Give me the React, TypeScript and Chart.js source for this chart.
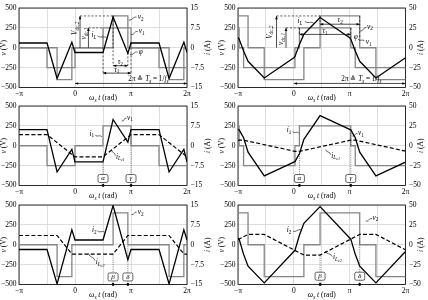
import React, { useEffect, useRef } from 'react';
import { Chart, registerables } from 'chart.js';

Chart.register(...registerables);

const FONT = '"Liberation Serif", "DejaVu Serif", serif';
const TICK_SIZE = 7.5;

// ---- shared axis definitions (x in multiples of π)
const X_MIN = -1;
const X_MAX = 2;
const X_STEP = 0.5;
const xTickText: Record<string, string> = { '-1': '−π', '0': '0', '1': 'π', '2': '2π' };
const V_MIN = -500;
const V_MAX = 500;
const V_STEP = 250;

// ---- Panel 1 (top left): v1, v2, i_L
const p1V1Edges = [-1, -0.5, 0, 0.5, 1, 1.5, 2];
const p1V1Levels = [0, -250, 0, 250, 0, -250, -250];
const p1V2Edges = [-1, -0.32, -0.056, 0.68, 0.944, 1.68, 1.944, 2];
const p1V2Levels = [0, -400, 0, 400, 0, -400, 0, 0];
const p1IT = [-1, -0.5, -0.32, -0.056, 0, 0.5, 0.68, 0.944, 1, 1.5, 1.68, 1.944, 2];
const p1I = [1.8, 1.8, -11.6, 2.1, -1.8, -1.8, 11.6, -2.1, 1.8, 1.8, -11.6, 2.1, -1.8];

// ---- Panel 2 (top right): v1, v2, i_L
const p2V1Edges = [-1, -0.98, -0.9, 0.02, 0.1, 1.02, 1.1, 2];
const p2V1Levels = [250, 0, -250, 0, 250, 0, -250, -250];
const p2V2Edges = [-1, -0.82, -0.53, 0.18, 0.47, 1.18, 1.47, 2];
const p2V2Levels = [400, 0, -400, 0, 400, 0, -400, -400];
const p2IT = [-1, -0.98, -0.9, -0.82, -0.53, 0, 0.02, 0.1, 0.18, 0.47, 1, 1.02, 1.1, 1.18, 1.47, 2];
const p2I = [12.5, 11, -4, -17, -38, -12.5, -11, 4, 17, 38, 12.5, 11, -4, -17, -38, -12.5];

// ---- Panel 3 (middle left): v1, i1, i_Lc1
const p3V1Edges = [-1, -0.5, 0, 0.5, 1, 1.5, 2];
const p3V1Levels = [0, -250, 0, 250, 0, -250, -250];
const p3IT = [-1, -0.5, -0.32, -0.056, 0, 0.5, 0.68, 0.944, 1, 1.5, 1.68, 1.944, 2];
const p3I = [6.1, 6.1, -9.9, -1.4, -6.1, -6.1, 9.9, 1.4, 6.1, 6.1, -9.9, -1.4, -6.1];
const p3LcT = [-1, -0.5, 0, 0.5, 1, 1.5, 2];
const p3Lc = [4.2, 4.2, -4.2, -4.2, 4.2, 4.2, -4.2];

// ---- Panel 4 (middle right): v1, i1, i_Lc1
const p4V1Edges = [-1, -0.98, -0.9, 0.02, 0.1, 1.02, 1.1, 2];
const p4V1Levels = [250, 0, -250, 0, 250, 0, -250, -250];
const p4IT = [-1, -0.98, -0.9, -0.82, -0.53, 0, 0.02, 0.1, 0.18, 0.47, 1, 1.02, 1.1, 1.18, 1.47, 2];
const p4I = [20.5, 20, 10, -8, -38, -20.5, -20, -10, 8, 38, 20.5, 20, 10, -8, -38, -20.5];
const p4LcT = [-1, -0.98, -0.9, 0.02, 0.1, 1.02, 1.1, 2];
const p4Lc = [6.7, 7, 7, -7, -7, 7, 7, -6.7];

// ---- Panel 5 (bottom left): v2, i2, i_Lc2
const p5V2Edges = [-1, -0.32, -0.056, 0.68, 0.944, 1.68, 1.944, 2];
const p5V2Levels = [0, -400, 0, 400, 0, -400, 0, 0];
const p5IT = [-1, -0.5, -0.32, -0.056, 0, 0.5, 0.68, 0.944, 1, 1.5, 1.68, 1.944, 2];
const p5I = [-1.8, -1.8, -14.8, 5.6, 1.8, 1.8, 14.8, -5.6, -1.8, -1.8, -14.8, 5.6, 1.8];
const p5LcT = [-1, -0.32, -0.056, 0.68, 0.944, 1.68, 1.944, 2];
const p5Lc = [3.5, 3.5, -3.5, -3.5, 3.5, 3.5, -3.5, -3.5];

// ---- Panel 6 (bottom right): v2, i2, i_Lc2
const p6V2Edges = [-1, -0.82, -0.53, 0.18, 0.47, 1.18, 1.47, 2];
const p6V2Levels = [400, 0, -400, 0, 400, 0, -400, -400];
const p6IT = [-1, -0.98, -0.9, -0.82, -0.53, 0, 0.02, 0.1, 0.18, 0.47, 1, 1.02, 1.1, 1.18, 1.47, 2];
const p6I = [8.5, 7, -12, -27, -48, -8.5, -7, 12, 27, 48, 8.5, 7, -12, -27, -48, -8.5];
const p6LcT = [-1, -0.82, -0.53, 0.18, 0.47, 1.18, 1.47, 2];
const p6Lc = [6.4, 13, 13, -13, -13, 13, 13, -6.4];

// ---- layout
const CANVAS_W = 214;
const CANVAS_H = 103;
const TOP_PAD = 5.5;
const PLOT_H = 82;
const ROW_TOP = [0, 98, 197];
const COLS = [
  { leftW: 19, rightW: 27, leftTitleX: 4, rightTitleX: 208.5 },
  { leftW: 24, rightW: 22.5, leftTitleX: 8.5, rightTitleX: 207 },
];
const GRID = '#d6d6d6';
const GRAY = '#858585';

type Part = [string, string];

function stepPts(edges: number[], levels: number[]) {
  const pts: { x: number; y: number }[] = [];
  for (let k = 0; k < edges.length; k++) {
    if (k > 0) pts.push({ x: edges[k], y: levels[k - 1] });
    pts.push({ x: edges[k], y: levels[k] });
  }
  return pts;
}
function linePts(ts: number[], vs: number[]) {
  return ts.map((t, k) => ({ x: t, y: vs[k] }));
}

function drawRich(ctx: CanvasRenderingContext2D, x: number, y: number, parts: Part[], size: number, align = 'center', rot = 0) {
  const fonts = parts.map(([s, k]) => {
    const sub = k === 's' || k === 'si';
    const ss = k === 'ss';
    const sz = ss ? size * 0.58 : sub ? size * 0.72 : size;
    const it = k === 'i' || k === 'si' || k === 'ss';
    const dy = ss ? size * 0.45 : sub ? size * 0.3 : 0;
    return { s, font: `${it ? 'italic ' : ''}${sz}px ${FONT}`, dy };
  });
  ctx.save();
  let w = 0;
  const ws = fonts.map((f) => {
    ctx.font = f.font;
    const m = ctx.measureText(f.s).width;
    w += m;
    return m;
  });
  ctx.translate(x, y);
  ctx.rotate(rot);
  let cx = align === 'center' ? -w / 2 : align === 'right' ? -w : 0;
  ctx.textBaseline = 'middle';
  ctx.textAlign = 'left';
  ctx.fillStyle = '#000';
  fonts.forEach((f, i) => {
    ctx.font = f.font;
    ctx.fillText(f.s, cx, f.dy);
    cx += ws[i];
  });
  ctx.restore();
}

function head(ctx: CanvasRenderingContext2D, x: number, y: number, ang: number) {
  const L = 3.2, W = 1.3;
  const c = Math.cos(ang), s = Math.sin(ang);
  ctx.beginPath();
  ctx.moveTo(x, y);
  ctx.lineTo(x - L * c + W * s, y - L * s - W * c);
  ctx.lineTo(x - L * c - W * s, y - L * s + W * c);
  ctx.closePath();
  ctx.fill();
}

function makeH(chart: any) {
  const ctx: CanvasRenderingContext2D = chart.ctx;
  const xs = chart.scales.x, ys = chart.scales.y;
  const X = (t: number) => xs.getPixelForValue(t);
  const Y = (v: number) => ys.getPixelForValue(v);
  const S = 7.2;
  return {
    dash(t1: number, v1: number, t2: number, v2: number) {
      ctx.save();
      ctx.strokeStyle = '#000';
      ctx.lineWidth = 0.6;
      ctx.setLineDash([2.2, 1.6]);
      ctx.beginPath();
      ctx.moveTo(X(t1), Y(v1));
      ctx.lineTo(X(t2), Y(v2));
      ctx.stroke();
      ctx.restore();
    },
    vArrow(t: number, v1: number, v2: number) {
      ctx.save();
      ctx.strokeStyle = '#000';
      ctx.fillStyle = '#000';
      ctx.lineWidth = 0.7;
      ctx.beginPath();
      ctx.moveTo(X(t), Y(v1));
      ctx.lineTo(X(t), Y(v2));
      ctx.stroke();
      head(ctx, X(t), Y(v2), v2 > v1 ? -Math.PI / 2 : Math.PI / 2);
      ctx.restore();
    },
    hArrow(t1: number, t2: number, v: number) {
      ctx.save();
      ctx.strokeStyle = '#000';
      ctx.fillStyle = '#000';
      ctx.lineWidth = 0.7;
      ctx.beginPath();
      ctx.moveTo(X(t1), Y(v));
      ctx.lineTo(X(t2), Y(v));
      ctx.stroke();
      head(ctx, X(t2), Y(v), 0);
      head(ctx, X(t1), Y(v), Math.PI);
      ctx.restore();
    },
    text(t: number, v: number, parts: Part[], align = 'center', rot = 0, size = S) {
      drawRich(ctx, X(t), Y(v), parts, size, align, rot);
    },
    squig(t1: number, v1: number, t2: number, v2: number) {
      const x1 = X(t1), y1 = Y(v1), x2 = X(t2), y2 = Y(v2);
      const dx = x2 - x1, dy = y2 - y1;
      const len = Math.hypot(dx, dy) || 1;
      const nx = -dy / len, ny = dx / len;
      ctx.save();
      ctx.strokeStyle = '#000';
      ctx.lineWidth = 0.6;
      ctx.beginPath();
      ctx.moveTo(x1, y1);
      ctx.bezierCurveTo(x1 + dx * 0.35 + nx * 2.2, y1 + dy * 0.35 + ny * 2.2, x1 + dx * 0.65 - nx * 2.2, y1 + dy * 0.65 - ny * 2.2, x2, y2);
      ctx.stroke();
      ctx.restore();
    },
    marker(t: number, vTop: number, vBox: number, label: string) {
      const x = X(t);
      ctx.save();
      ctx.strokeStyle = '#222';
      ctx.lineWidth = 0.6;
      ctx.setLineDash([1, 1.2]);
      ctx.beginPath();
      ctx.moveTo(x, Y(vTop));
      ctx.lineTo(x, Y(V_MIN));
      ctx.stroke();
      ctx.setLineDash([]);
      const bw = 10, bh = 8, by = Y(vBox);
      ctx.beginPath();
      ctx.roundRect(x - bw / 2, by - bh / 2, bw, bh, 1.6);
      ctx.fillStyle = '#fff';
      ctx.fill();
      ctx.strokeStyle = '#000';
      ctx.lineWidth = 0.6;
      ctx.stroke();
      ctx.fillStyle = '#000';
      ctx.beginPath();
      ctx.arc(x, Y(V_MIN), 1.4, 0, Math.PI * 2);
      ctx.fill();
      ctx.restore();
      drawRich(ctx, x, by, [[label, 'i']], 7, 'center');
    },
  };
}

const sub = (a: string, b: string): Part[] => [[a, 'i'], [b, 's']];
const subi = (a: string, b: string): Part[] => [[a, 'i'], [b, 'si']];
const iLc = (n: string): Part[] => [['i', 'i'], ['L', 'si'], ['c' + n, 'ss']];
const tsLabel: Part[] = [['2π ≙ ', 'r'], ['T', 'i'], ['s', 'si'], [' = 1/', 'r'], ['f', 'i'], ['s', 'si']];
const ROT = -Math.PI / 2;

const panels = [
  {
    col: 0, row: 0, iMax: 15, iStep: 7.5,
    series: [
      { pts: stepPts(p1V1Edges, p1V1Levels), kind: 'gray' },
      { pts: stepPts(p1V2Edges, p1V2Levels), kind: 'gray' },
      { pts: linePts(p1IT, p1I), kind: 'solid' },
    ],
    ann: (h: any) => {
      h.dash(0.09, 400, 0.68, 400);
      h.dash(0.24, 250, 0.5, 250);
      h.vArrow(0.09, 0, 400);
      h.vArrow(0.24, 0, 250);
      h.text(0.0, 244, subi('V', 'dc,2'), 'center', ROT);
      h.text(0.17, 180, subi('v', 'dc,1'), 'center', ROT);
      h.text(0.34, 159, subi('i', 'L'));
      h.squig(0.4, 152, 0.57, 120);
      h.squig(0.96, 350, 1.1, 384);
      h.text(1.12, 384, sub('v', '2'), 'left');
      h.squig(1.0, 165, 1.12, 205);
      h.text(1.14, 205, sub('v', '1'), 'left');
      h.squig(0.98, -85, 1.12, -55);
      h.text(1.14, -55, [['φ', 'i']], 'left');
      h.dash(0.68, 400, 0.68, -226);
      h.dash(0.944, -60, 0.944, -226);
      h.dash(0.5, 0, 0.5, -319);
      h.dash(1.0, 0, 1.0, -319);
      h.hArrow(0.68, 0.944, -226);
      h.text(0.81, -185, sub('τ', '2'));
      h.hArrow(0.5, 1.0, -319);
      h.text(0.745, -278, sub('τ', '1'));
      h.hArrow(0, 2, -449);
      h.text(1.31, -400, tsLabel);
    },
  },
  {
    col: 1, row: 0, iMax: 50, iStep: 25,
    series: [
      { pts: stepPts(p2V1Edges, p2V1Levels), kind: 'gray' },
      { pts: stepPts(p2V2Edges, p2V2Levels), kind: 'gray' },
      { pts: linePts(p2IT, p2I), kind: 'solid' },
    ],
    ann: (h: any) => {
      h.dash(-0.31, 400, 0.47, 400);
      h.dash(-0.14, 250, 0.1, 250);
      h.vArrow(-0.31, 0, 400);
      h.vArrow(-0.14, 0, 250);
      h.text(-0.43, 195, subi('V', 'dc,2'), 'center', ROT);
      h.text(-0.22, 110, subi('v', 'dc,1'), 'center', ROT);
      h.text(0.11, 332, subi('i', 'L'));
      h.squig(0.2, 332, 0.36, 305);
      h.dash(0.47, 400, 0.47, 296);
      h.dash(1.18, 400, 1.18, 120);
      h.dash(0.1, 250, 0.1, 168);
      h.dash(1.02, 250, 1.02, 120);
      h.hArrow(0.47, 1.18, 296);
      h.text(0.83, 344, sub('τ', '2'));
      h.hArrow(0.1, 1.02, 168);
      h.text(0.56, 210, sub('τ', '1'));
      h.text(1.11, 140, [['φ', 'i']]);
      h.squig(1.19, 210, 1.3, 255);
      h.text(1.31, 263, sub('v', '2'), 'left');
      h.squig(1.15, 110, 1.27, 80);
      h.text(1.29, 72, sub('v', '1'), 'left');
      h.hArrow(0, 2, -449);
      h.text(1.21, -400, tsLabel);
    },
  },
  {
    col: 0, row: 1, iMax: 15, iStep: 7.5,
    series: [
      { pts: stepPts(p3V1Edges, p3V1Levels), kind: 'gray' },
      { pts: linePts(p3IT, p3I), kind: 'solid' },
      { pts: linePts(p3LcT, p3Lc), kind: 'dash' },
    ],
    ann: (h: any) => {
      h.squig(0.834, 311, 0.92, 348);
      h.text(0.93, 351, sub('v', '1'), 'left');
      h.text(0.298, 149, sub('i', '1'));
      h.squig(0.36, 137, 0.48, 110);
      h.squig(0.655, -50, 0.72, -125);
      h.text(0.73, -137, iLc('1'), 'left');
      h.marker(0.5, -210, -412, 'α');
      h.marker(1.0, 116, -412, 'γ');
    },
  },
  {
    col: 1, row: 1, iMax: 50, iStep: 25,
    series: [
      { pts: stepPts(p4V1Edges, p4V1Levels), kind: 'gray' },
      { pts: linePts(p4IT, p4I), kind: 'solid' },
      { pts: linePts(p4LcT, p4Lc), kind: 'dash' },
    ],
    ann: (h: any) => {
      h.text(-0.087, 198, sub('i', '1'));
      h.squig(-0.02, 180, 0.09, 156);
      h.squig(1.047, 124, 1.14, 150);
      h.text(1.15, 156, sub('v', '1'), 'left');
      h.squig(0.571, -46, 0.66, -112);
      h.text(0.67, -128, iLc('1'), 'left');
      h.marker(0.1, -70, -412, 'α');
      h.marker(1.02, 160, -412, 'γ');
    },
  },
  {
    col: 0, row: 2, iMax: 15, iStep: 7.5,
    series: [
      { pts: stepPts(p5V2Edges, p5V2Levels), kind: 'gray' },
      { pts: linePts(p5IT, p5I), kind: 'solid' },
      { pts: linePts(p5LcT, p5Lc), kind: 'dash' },
    ],
    ann: (h: any) => {
      h.squig(1.01, 380, 1.1, 409);
      h.text(1.12, 409, sub('v', '2'), 'left');
      h.text(0.345, 185, sub('i', '2'));
      h.squig(0.4, 177, 0.536, 152);
      h.squig(0.2375, -107, 0.357, -201);
      h.text(0.37, -222, iLc('2'), 'left');
      h.marker(0.68, -107, -405, 'β');
      h.marker(0.944, -18, -405, 'δ');
    },
  },
  {
    col: 1, row: 2, iMax: 50, iStep: 25,
    series: [
      { pts: stepPts(p6V2Edges, p6V2Levels), kind: 'gray' },
      { pts: linePts(p6IT, p6I), kind: 'solid' },
      { pts: linePts(p6LcT, p6Lc), kind: 'dash' },
    ],
    ann: (h: any) => {
      h.squig(1.287, 299, 1.4, 327);
      h.text(1.41, 339, sub('v', '2'), 'left');
      h.text(-0.087, 185, sub('i', '2'));
      h.squig(-0.015, 173, 0.134, 185);
      h.squig(0.558, -79, 0.689, -149);
      h.text(0.7, -161, iLc('2'), 'left');
      h.marker(0.47, -112, -396, 'β');
      h.marker(1.18, 83, -396, 'δ');
    },
  },
];

function Panel({ p }: { p: any }) {
  const ref = useRef<HTMLCanvasElement>(null);
  useEffect(() => {
    const canvas = ref.current;
    if (!canvas) return;
    const geom = COLS[p.col];
    const tickFont = { family: FONT, size: TICK_SIZE };
    const datasets = p.series.map((s: any) => ({
      data: s.pts,
      yAxisID: s.kind === 'gray' ? 'y' : 'y1',
      borderColor: s.kind === 'gray' ? GRAY : '#000',
      borderWidth: s.kind === 'gray' ? 1.3 : s.kind === 'dash' ? 1.2 : 1.3,
      borderDash: s.kind === 'dash' ? [4, 2.2] : [],
      pointRadius: 0,
      tension: 0,
      fill: false,
      order: s.kind === 'gray' ? 3 : s.kind === 'dash' ? 2 : 1,
    }));
    const framePlugin = {
      id: 'frame',
      beforeDatasetsDraw(chart: any) {
        const { ctx, chartArea: a } = chart;
        ctx.save();
        ctx.strokeStyle = '#000';
        ctx.lineWidth = 0.8;
        ctx.strokeRect(a.left, a.top, a.right - a.left, a.bottom - a.top);
        ctx.restore();
      },
    };
    const annPlugin = {
      id: 'ann',
      afterDatasetsDraw(chart: any) {
        p.ann(makeH(chart));
      },
      afterDraw(chart: any) {
        const { ctx, chartArea: a } = chart;
        const cy = (a.top + a.bottom) / 2;
        drawRich(ctx, geom.leftTitleX, cy, [['v', 'i'], [' (V)', 'r']], TICK_SIZE, 'center', ROT);
        drawRich(ctx, geom.rightTitleX, cy, [['i', 'i'], [' (A)', 'r']], TICK_SIZE, 'center', ROT);
        drawRich(ctx, (a.left + a.right) / 2, a.bottom + 10.5, [['ω', 'i'], ['s', 'si'], [' t', 'i'], [' (rad)', 'r']], TICK_SIZE, 'center');
      },
    };
    const chart = new Chart(canvas, {
      type: 'line',
      data: { datasets },
      options: {
        responsive: false,
        animation: false,
        events: [],
        layout: { padding: { top: TOP_PAD, left: 0, right: 0, bottom: 0 } },
        plugins: { legend: { display: false }, tooltip: { enabled: false }, title: { display: false } },
        scales: {
          x: {
            type: 'linear',
            min: X_MIN,
            max: X_MAX,
            ticks: {
              stepSize: X_STEP,
              autoSkip: false,
              maxRotation: 0,
              padding: 2,
              font: tickFont,
              color: '#000',
              callback: (v: any) => xTickText[String(v)] ?? '',
            },
            grid: { color: GRID, lineWidth: 0.8, drawTicks: false },
            border: { display: false },
            afterFit: (s: any) => {
              s.height = CANVAS_H - TOP_PAD - PLOT_H;
            },
          },
          y: {
            type: 'linear',
            position: 'left',
            min: V_MIN,
            max: V_MAX,
            ticks: {
              stepSize: V_STEP,
              padding: 2.5,
              font: tickFont,
              color: '#000',
              callback: (v: any) => (v < 0 ? '−' + Math.abs(v) : String(v)),
            },
            grid: { color: GRID, lineWidth: 0.8, drawTicks: false },
            border: { display: false },
            afterFit: (s: any) => {
              s.width = geom.leftW;
            },
          },
          y1: {
            type: 'linear',
            position: 'right',
            min: -p.iMax,
            max: p.iMax,
            ticks: {
              stepSize: p.iStep,
              padding: 3.5,
              font: tickFont,
              color: '#000',
              callback: (v: any) => (v < 0 ? '−' + Math.abs(v) : String(v)),
            },
            grid: { display: false, drawTicks: false },
            border: { display: false },
            afterFit: (s: any) => {
              s.width = geom.rightW;
            },
          },
        },
      } as any,
      plugins: [framePlugin, annPlugin],
    });
    return () => chart.destroy();
  }, []);
  return (
    <canvas
      ref={ref}
      width={CANVAS_W}
      height={CANVAS_H}
      style={{ position: 'absolute', left: p.col * CANVAS_W, top: ROW_TOP[p.row], width: CANVAS_W, height: CANVAS_H }}
    />
  );
}

export default function App() {
  return (
    <div style={{ position: 'fixed', left: 0, top: 0, width: 428, height: 300, background: '#fff', overflow: 'hidden' }}>
      {panels.map((p, i) => (
        <Panel key={i} p={p} />
      ))}
    </div>
  );
}
